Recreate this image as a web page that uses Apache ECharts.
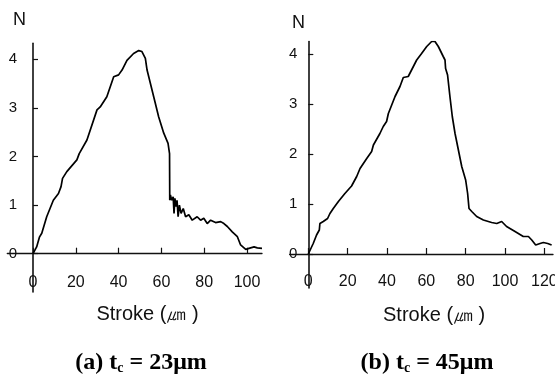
<!DOCTYPE html>
<html>
<head>
<meta charset="utf-8">
<script src="https://cdn.jsdelivr.net/npm/echarts@6/dist/echarts.min.js"></script>
<style>
html,body{margin:0;padding:0;background:#fff;}
#chart{width:555px;height:378px;}
</style>
</head>
<body>
<div id="chart"></div>
<script>
// Panel (a) t_c = 23 µm
const strokeA = [0,1.7,3.0,4.1,6.4,9.5,11.9,13.1,13.8,15.8,20.5,21.6,25.2,29.9,31.4,34.5,37.7,40.0,41.6,43.9,47.0,49.4,50.9,52.5,53.3,56.4,58.7,61.1,63.1,63.8,63.9,64.2,64.8,65.5,65.9,66.3,66.9,67.3,67.8,68.4,69.2,70.2,71.3,72.8,74.4,76.7,78.3,79.8,81.4,83.0,85.3,87.7,89.2,90.8,93.1,95.5,97.0,99.4,100.9,103.3,104.8,107.0];
const forceA  = [0,0.14,0.34,0.42,0.76,1.10,1.24,1.38,1.55,1.69,1.93,2.06,2.34,2.96,3.02,3.23,3.64,3.68,3.78,3.98,4.12,4.18,4.16,4.02,3.78,3.23,2.82,2.48,2.27,2.06,1.10,1.21,1.10,1.17,0.83,1.14,0.97,1.10,0.76,1.00,0.83,0.93,0.76,0.80,0.69,0.76,0.69,0.73,0.62,0.69,0.64,0.66,0.62,0.56,0.45,0.35,0.18,0.09,0.11,0.14,0.12,0.11];
// Panel (b) t_c = 45 µm
const strokeB = [0,2.5,4.2,5.6,5.9,7.6,9.8,11.0,12.7,15.3,18.6,22.0,24.6,26.3,29.7,32.2,33.1,36.4,38.1,39.8,40.7,42.4,44.1,46.6,48.3,50.8,52.5,55.1,57.6,60.2,62.7,64.4,66.1,68.6,69.5,69.8,70.8,72.0,73.2,74.6,76.3,78.0,80.0,81.0,81.7,83.1,85.6,89.0,93.2,95.8,98.3,100.8,105.1,109.3,111.9,113.6,115.6,117.8,119.5,121.7,123.7];
const forceB  = [0,0.21,0.38,0.48,0.61,0.65,0.71,0.81,0.91,1.05,1.21,1.36,1.55,1.71,1.91,2.05,2.18,2.41,2.55,2.65,2.81,2.98,3.15,3.35,3.53,3.55,3.68,3.88,4.01,4.15,4.25,4.25,4.15,3.95,3.88,3.71,3.58,3.15,2.75,2.41,2.08,1.75,1.48,1.21,0.91,0.85,0.75,0.68,0.63,0.61,0.65,0.55,0.45,0.35,0.35,0.28,0.18,0.21,0.23,0.21,0.18];

const xTicksA = [0,20,40,60,80,100];
const xTicksB = [0,20,40,60,80,100,120];
const yTicks = [0,1,2,3,4];
const xName = 'Stroke (\u339B )';
const captionA = ['(a) t', 'c', ' = 23\u03BCm'];
const captionB = ['(b) t', 'c', ' = 45\u03BCm'];
const yName = 'N';

const pairs = (xs, ys) => xs.map((x, i) => [x, ys[i]]);

const sans = '"Liberation Sans", Arial, sans-serif';
const serif = '"Liberation Serif", "Times New Roman", serif';
const ink = '#111';

// data axes (origin at grid corner): ticks, labels, names
function xDataAxis(gi, max, ticks, padLeft, margin) {
  return {
    type: 'value', gridIndex: gi, min: 0, max: max,
    axisLine: { show: false },
    axisTick: { show: true, inside: true, length: 6, customValues: ticks, lineStyle: { color: ink, width: 1.2 } },
    axisLabel: { customValues: ticks, margin: margin, color: ink, fontFamily: sans, fontSize: 16 },
    splitLine: { show: false },
    name: xName, nameLocation: 'middle', nameGap: 51,
    nameTextStyle: { color: ink, fontFamily: sans, fontSize: 20, padding: [0, 0, 0, padLeft] }
  };
}
function yDataAxis(gi, max, margin) {
  return {
    type: 'value', gridIndex: gi, min: 0, max: max,
    axisLine: { show: false },
    axisTick: { show: true, inside: true, length: 5, customValues: yTicks, lineStyle: { color: ink, width: 1.2 } },
    axisLabel: { customValues: yTicks, margin: margin, color: ink, fontFamily: sans, fontSize: 15 },
    splitLine: { show: false }
  };
}
// frame axes (extended range): only the crossing axis lines
function lineAxis(gi, min, max, w) {
  return {
    type: 'value', gridIndex: gi, min: min, max: max,
    axisLine: { onZero: true, lineStyle: { color: ink, width: w } },
    axisTick: { show: false }, axisLabel: { show: false }, splitLine: { show: false }
  };
}
function caption(parts, cx) {
  return {
    text: '{m|' + parts[0] + '}{s|' + parts[1] + '}{m|' + parts[2] + '}',
    left: cx, top: 346, textAlign: 'center',
    textStyle: {
      rich: {
        m: { fontFamily: serif, fontWeight: 'bold', fontSize: 24, color: '#000' },
        s: { fontFamily: serif, fontWeight: 'bold', fontSize: 14, color: '#000', verticalAlign: 'bottom' }
      }
    }
  };
}

const chart = echarts.init(document.getElementById('chart'), null, { renderer: 'canvas' });
chart.setOption({
  animation: false,
  backgroundColor: '#fff',
  title: [
    { text: yName, left: 8, top: 6, textStyle: { fontFamily: sans, fontSize: 18, fontWeight: 'normal', color: ink } },
    { text: yName, left: 287, top: 9, textStyle: { fontFamily: sans, fontSize: 18, fontWeight: 'normal', color: ink } },
    caption(captionA, 136),
    caption(captionB, 422)
  ],
  grid: [
    // data grids
    { left: 33, right: 293, top: 43.3, bottom: 124.3, outerBoundsMode: 'none', containLabel: false },
    { left: 308.3, right: 2, top: 41.5, bottom: 124, outerBoundsMode: 'none', containLabel: false },
    // frame grids for the crossing axis lines
    { left: 7.3, right: 293, top: 43.3, bottom: 86, outerBoundsMode: 'none', containLabel: false },
    { left: 289.6, right: 2, top: 41.5, bottom: 90, outerBoundsMode: 'none', containLabel: false }
  ],
  xAxis: [
    xDataAxis(0, 107, xTicksA, 0, 21),
    xDataAxis(1, 124.4, xTicksB, 7, 20),
    lineAxis(2, -12, 107, 1.3),
    lineAxis(3, -9.5, 124.4, 1.3)
  ],
  yAxis: [
    yDataAxis(0, 4.33, 16),
    yDataAxis(1, 4.25, 11),
    lineAxis(2, -0.79, 4.33, 1.6),
    lineAxis(3, -0.68, 4.25, 1.6)
  ],
  series: [
    { type: 'line', xAxisIndex: 0, yAxisIndex: 0, data: pairs(strokeA, forceA), showSymbol: false,
      lineStyle: { color: '#000', width: 1.7 } },
    { type: 'line', xAxisIndex: 1, yAxisIndex: 1, data: pairs(strokeB, forceB), showSymbol: false,
      lineStyle: { color: '#000', width: 1.7 } }
  ]
});
</script>
</body>
</html>
